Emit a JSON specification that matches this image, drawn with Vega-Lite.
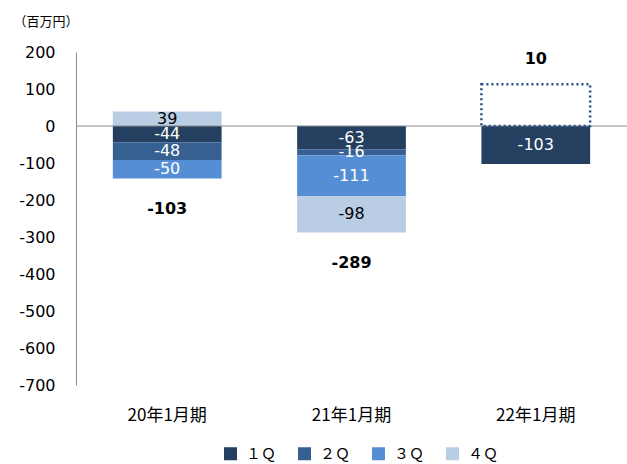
{
  "$schema": "https://vega.github.io/schema/vega-lite/v6.json",
  "autosize": "none",
  "width": 551,
  "height": 333,
  "padding": {"left": 76, "top": 52, "right": 0, "bottom": 79},
  "background": "white",
  "config": {"view": {"stroke": null}, "font": "DejaVu Sans", "locale": {"number": {"decimal": ".", "thousands": ",", "grouping": [3], "currency": ["$", ""], "minus": "-"}}},
  "datasets": {
    "quarters": [
      {"period": "20年1月期", "q": "１Ｑ", "order": 1, "value": -44},
      {"period": "20年1月期", "q": "２Ｑ", "order": 2, "value": -48},
      {"period": "20年1月期", "q": "３Ｑ", "order": 3, "value": -50},
      {"period": "20年1月期", "q": "４Ｑ", "order": 4, "value": 39},
      {"period": "21年1月期", "q": "１Ｑ", "order": 1, "value": -63},
      {"period": "21年1月期", "q": "２Ｑ", "order": 2, "value": -16},
      {"period": "21年1月期", "q": "３Ｑ", "order": 3, "value": -111},
      {"period": "21年1月期", "q": "４Ｑ", "order": 4, "value": -98},
      {"period": "22年1月期", "q": "１Ｑ", "order": 1, "value": -103}
    ],
    "forecast": [
      {"period": "22年1月期", "value": 113}
    ],
    "totals": [
      {"period": "20年1月期", "label": "-103", "value": -142},
      {"period": "21年1月期", "label": "-289", "value": -288},
      {"period": "22年1月期", "label": "10", "value": 113}
    ]
  },
  "layer": [
    {
      "data": {"name": "quarters"},
      "mark": {"type": "bar"},
      "encoding": {
        "x": {
          "field": "period", "type": "nominal", "sort": null,
          "scale": {"paddingInner": 0.41, "paddingOuter": 0.2},
          "axis": {"title": null, "labelAngle": 0, "domain": false, "ticks": false, "tickSize": 0, "labelPadding": 22, "labelFontSize": 17, "labelColor": "#000", "labelFont": "Noto Sans CJK JP"}
        },
        "y": {
          "field": "value", "type": "quantitative", "stack": "zero",
          "scale": {"domain": [-700, 200], "nice": false, "zero": false},
          "title": "（百万円）",
          "axis": {
            "values": [-700, -600, -500, -400, -300, -200, -100, 0, 100, 200],
            "tickCount": 20, "labelOverlap": false,
            "grid": false, "ticks": false, "tickSize": 0, "domainColor": "#8c8c8c",
            "labelPadding": 21, "labelFontSize": 16, "labelColor": "#000", "labelFont": "DejaVu Sans",
            "titleAngle": 0, "titleX": -63, "titleY": -31, "titleAlign": "left", "titleBaseline": "middle",
            "titleFontSize": 13, "titleFontWeight": "normal", "titleColor": "#000", "titleFont": "Noto Sans CJK JP"
          }
        },
        "color": {
          "field": "q", "type": "nominal",
          "scale": {"domain": ["１Ｑ", "２Ｑ", "３Ｑ", "４Ｑ"], "range": ["#243F60", "#366092", "#558ED5", "#B9CDE5"]},
          "legend": {
            "title": null, "orient": "none", "direction": "horizontal", "legendX": 147, "legendY": 394,
            "symbolType": "square", "symbolSize": 169, "symbolStrokeWidth": 0,
            "labelFontSize": 15, "labelColor": "#000", "labelOffset": 8, "columnPadding": 20, "labelFont": "Noto Sans CJK JP"
          }
        },
        "order": {"field": "order", "type": "quantitative"}
      }
    },
    {
      "data": {"values": [{"value": 0}]},
      "mark": {"type": "rule", "color": "#8c8c8c", "strokeWidth": 1},
      "encoding": {"y": {"field": "value", "type": "quantitative"}}
    },
    {
      "data": {"name": "forecast"},
      "mark": {"type": "bar", "fill": "transparent", "stroke": "#264F86", "strokeWidth": 2.5, "strokeDash": [2, 3]},
      "encoding": {
        "x": {"field": "period", "type": "nominal", "sort": null},
        "y": {"field": "value", "type": "quantitative"}
      }
    },
    {
      "data": {"name": "quarters"},
      "mark": {"type": "text", "fontSize": 16, "baseline": "middle"},
      "encoding": {
        "x": {"field": "period", "type": "nominal", "sort": null},
        "y": {"field": "value", "type": "quantitative", "stack": "zero", "bandPosition": 0.5},
        "order": {"field": "order", "type": "quantitative"},
        "text": {"field": "value", "type": "quantitative", "format": "d"},
        "color": {"condition": {"test": "datum.q === '４Ｑ'", "value": "#000000"}, "value": "#ffffff"}
      }
    },
    {
      "data": {"name": "totals"},
      "transform": [{"filter": "datum.value < 0"}],
      "mark": {"type": "text", "fontSize": 16, "fontWeight": "bold", "dy": 30, "color": "#000"},
      "encoding": {
        "x": {"field": "period", "type": "nominal", "sort": null},
        "y": {"field": "value", "type": "quantitative"},
        "text": {"field": "label", "type": "nominal"}
      }
    },
    {
      "data": {"name": "totals"},
      "transform": [{"filter": "datum.value > 0"}],
      "mark": {"type": "text", "fontSize": 16, "fontWeight": "bold", "dy": -25, "color": "#000"},
      "encoding": {
        "x": {"field": "period", "type": "nominal", "sort": null},
        "y": {"field": "value", "type": "quantitative"},
        "text": {"field": "label", "type": "nominal"}
      }
    }
  ]
}
